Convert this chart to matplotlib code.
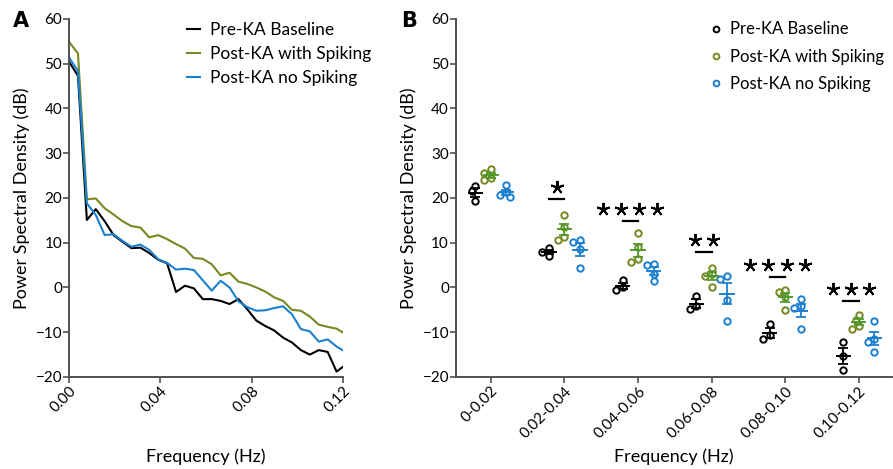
import numpy as np
import matplotlib.pyplot as plt

plt.rcParams['font.family'] = ['Lato', 'DejaVu Sans']

# panel A: spectra, one value per 1/256 Hz bin
freq = np.arange(32) / 256
pre_ka = [50.5, 47.3, 15.1, 17.5, 14.8, 11.7, 10.2, 8.8, 8.9, 7.7, 6.2, 5.4,
          -1.0, 0.4, -0.2, -2.6, -2.6, -3.0, -3.7, -2.6, -4.9, -7.4, -8.6, -9.6,
          -11.2, -12.3, -14.0, -15.0, -14.0, -14.4, -18.8, -17.3]
post_spiking = [54.9, 52.3, 19.7, 19.9, 17.7, 16.3, 14.8, 13.7, 13.4, 11.2, 11.7, 10.8,
                9.7, 8.7, 6.6, 6.4, 5.2, 2.7, 3.3, 1.3, 0.8, 0.0, -0.9, -2.2,
                -3.0, -5.0, -5.2, -6.5, -8.3, -8.8, -9.2, -10.4]
post_no_spiking = [51.4, 48.4, 18.8, 16.2, 11.7, 11.9, 10.4, 9.1, 9.6, 8.4, 6.3, 5.5,
                   4.0, 4.2, 3.9, 1.6, -0.7, 1.5, 0.0, -3.1, -4.4, -5.2, -5.1, -4.6,
                   -4.2, -6.0, -9.3, -9.8, -12.1, -11.6, -13.2, -14.4]

# panel B: band power per animal
bands = ['0-0.02', '0.02-0.04', '0.04-0.06', '0.06-0.08', '0.08-0.10', '0.10-0.12']
pre_pts = [[22.7, 21.6, 19.3], [8.8, 8.0, 7.0], [1.7, 0.0, -0.5],
           [-1.8, -4.2, -4.8], [-8.1, -10.7, -11.6], [-12.2, -15.3, -18.4]]
spk_pts = [[26.4, 25.5, 24.4, 24.0], [16.3, 13.6, 11.3, 10.7], [12.2, 9.1, 6.3, 5.8],
           [4.3, 3.0, 2.5, 0.2], [-0.5, -1.1, -2.2, -5.1], [-6.1, -7.2, -8.5, -9.3]]
nospk_pts = [[23.0, 21.3, 20.6, 20.2], [10.7, 10.2, 8.5, 4.4], [5.2, 5.0, 3.0, 1.5],
             [2.6, 2.0, -2.7, -7.4], [-2.6, -4.1, -4.6, -9.3], [-7.4, -11.5, -12.2, -14.4]]
n_stars = [0, 1, 4, 2, 4, 3]
star_level = [None, 19.8, 14.9, 7.9, 2.4, -3.05]

labels = ['Pre-KA Baseline', 'Post-KA with Spiking', 'Post-KA no Spiking']
colors = ['#000000', '#74891f', '#1c80d0']
err_colors = ['#000000', '#4f9a2c', '#1c80d0']

fig = plt.figure(figsize=(8.93, 4.69), dpi=100)
axA = fig.add_axes([0.0773, 0.1962, 0.3068, 0.7633])
axB = fig.add_axes([0.5106, 0.1962, 0.4882, 0.7633])

for ax in (axA, axB):
    for s in ('top', 'right'):
        ax.spines[s].set_visible(False)
    for s in ('left', 'bottom'):
        ax.spines[s].set_color('#505050')
        ax.spines[s].set_linewidth(1.4)
    ax.tick_params(axis='both', length=4, width=1.2, color='#505050', labelsize=11, pad=1)
    ax.set_ylim(-20, 60)
    ax.set_yticks(range(-20, 61, 10))
    ax.set_ylabel('Power Spectral Density (dB)', fontsize=13, labelpad=4)
    ax.set_xlabel('Frequency (Hz)', fontsize=13)

# ---- A
for series, c, lab in zip([pre_ka, post_spiking, post_no_spiking], colors, labels):
    axA.plot(freq, series, color=c, lw=1.5, label=lab)
axA.set_xlim(0, 0.12)
axA.set_xticks([0, 0.04, 0.08, 0.12])
axA.set_xticklabels(['0.00', '0.04', '0.08', '0.12'], rotation=45, ha='right',
                    va='top', rotation_mode='anchor')
axA.xaxis.set_label_coords(0.5, -0.2)
axA.legend(loc='upper left', bbox_to_anchor=(0.375, 1.035), frameon=False, fontsize=12.5,
           handlelength=0.7, handletextpad=0.6, labelspacing=0.45)
fig.text(0.014, 0.955, 'A', fontsize=15, fontweight='bold', family='DejaVu Sans', va='center')

# ---- B
px_per_x = 73.6
px_per_y = 4.484


def swarm(vals, step=0.045, min_px=5.5):
    placed = []
    offs = []
    for v in vals:
        for k in [0, -1, 1, -2, 2]:
            dx = k * step
            ok = all(((dx - pdx) * px_per_x) ** 2 + ((v - pv) * px_per_y) ** 2 >= min_px ** 2
                     for pdx, pv in placed)
            if ok:
                break
        placed.append((dx, v))
        offs.append(dx)
    return offs


group_offsets = [-0.21, 0.0, 0.21]
for g, pts in enumerate([pre_pts, spk_pts, nospk_pts]):
    for b, vals in enumerate(pts):
        xc = b + group_offsets[g]
        offs = swarm(vals)
        axB.plot([xc + o for o in offs], vals, 'o', ms=4.6, mfc='none', mec=colors[g],
                 mew=1.4, label=labels[g] if b == 0 else None, zorder=3)
        m = np.mean(vals)
        sem = np.std(vals, ddof=1) / np.sqrt(len(vals))
        axB.plot([xc - 0.09, xc + 0.09], [m, m], color=err_colors[g], lw=1.4, zorder=4)
        axB.errorbar([xc], [m], yerr=[sem], color=err_colors[g], lw=1.3, capsize=3.5,
                     capthick=1.3, zorder=4)

star_gap = 0.245
for b, (n, lvl) in enumerate(zip(n_stars, star_level)):
    if not n:
        continue
    xm = b - 0.105
    axB.plot([b - 0.21, b], [lvl, lvl], color='black', lw=1.6)
    sx = [xm + (k - (n - 1) / 2) * star_gap for k in range(n)]
    axB.plot(sx, [lvl + 2.7] * n, ls='none', marker=(5, 2, 0), ms=9.5, mew=1.4,
             color='black')

axB.set_xlim(-0.475, 5.45)
axB.set_xticks(range(len(bands)))
axB.set_xticklabels(bands, rotation=45, ha='right', va='top', rotation_mode='anchor')
axB.xaxis.set_label_coords(0.5, -0.2)
axB.legend(loc='upper left', bbox_to_anchor=(0.553, 1.035), frameon=False, fontsize=12,
           handlelength=0.5, handletextpad=0.6, labelspacing=0.68, markerscale=0.9)
fig.text(0.449, 0.955, 'B', fontsize=15, fontweight='bold', family='DejaVu Sans', va='center')

fig.savefig('out.png', dpi=100)
